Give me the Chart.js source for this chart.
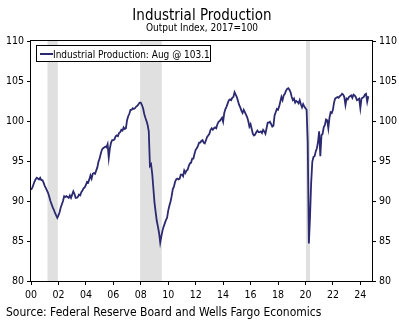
<!DOCTYPE html>
<html>
<head>
<meta charset="utf-8">
<script src="https://cdn.jsdelivr.net/npm/chart.js@4.4.1/dist/chart.umd.min.js"></script>
<style>
  html, body { margin: 0; padding: 0; background: #fff; }
  #wrap { width: 399px; height: 322px; }
</style>
</head>
<body>
<div id="wrap"><canvas id="ip" width="399" height="322"></canvas></div>
<script>
// Industrial production, monthly, Jan 2000 - Aug 2024 (2017=100)
const startYear = 2000;
const ipValues = [
  91.4, 91.6, 92.0, 92.4, 92.7, 92.9, 92.8, 92.7, 92.9, 92.6, 92.6, 92.3,
  91.9, 91.6, 91.3, 91.0, 90.5, 90.0, 89.6, 89.2, 88.9, 88.5, 88.2, 87.9,
  88.2, 88.6, 89.2, 89.6, 90.0, 90.6, 90.5, 90.6, 90.5, 90.4, 90.7, 90.4,
  90.8, 91.2, 90.9, 90.4, 90.4, 90.5, 90.8, 90.7, 91.1, 91.3, 91.6, 91.7,
  92.0, 92.4, 92.3, 92.7, 93.2, 92.8, 93.4, 93.5, 93.4, 93.8, 94.2, 94.9,
  95.3, 95.9, 96.4, 96.6, 96.7, 96.8, 96.7, 97.1, 95.4, 96.6, 97.3, 97.6,
  97.6, 97.7, 98.1, 98.2, 98.1, 98.5, 98.6, 98.9, 98.8, 99.2, 99.0, 99.1,
  100.1, 100.6, 100.9, 101.4, 101.4, 101.6, 101.5, 101.6, 101.8, 101.9, 102.1, 102.3,
  102.3, 102.0, 101.6, 100.9, 100.4, 100.0, 99.5, 98.7, 94.4, 94.6, 93.4, 91.6,
  89.8, 88.6, 87.5, 86.8, 86.0, 84.8, 85.6, 86.3, 86.8, 87.2, 87.6, 87.9,
  88.8, 89.4, 89.9, 90.6, 91.5, 91.8, 92.4, 92.7, 92.8, 92.7, 92.8, 93.3,
  93.3, 93.1, 93.8, 93.5, 93.8, 93.9, 94.4, 94.7, 94.8, 95.3, 95.3, 95.9,
  96.4, 96.6, 96.9, 97.3, 97.3, 97.5, 97.6, 97.3, 97.2, 97.6, 98.0, 98.2,
  98.4, 98.9, 99.1, 98.9, 99.1, 99.2, 99.1, 99.6, 99.9, 100.0, 100.2, 100.4,
  99.9, 101.0, 101.5, 101.8, 102.2, 102.6, 102.7, 102.6, 102.9, 103.0, 103.6, 103.3,
  103.0, 102.5, 102.0, 101.7, 101.3, 101.0, 101.4, 101.1, 100.8, 100.5, 100.0, 99.3,
  99.6, 99.0, 98.4, 98.2, 98.3, 98.6, 98.8, 98.6, 98.6, 98.7, 98.5, 98.9,
  98.7, 98.4, 99.1, 99.8, 99.8, 99.9, 99.6, 99.3, 99.4, 100.7, 101.1, 101.5,
  101.4, 101.8, 102.4, 103.0, 102.6, 103.2, 103.4, 103.8, 104.0, 104.1, 103.9, 103.6,
  103.0, 102.6, 102.8, 102.3, 102.5, 102.4, 102.2, 102.6, 102.1, 101.7, 102.1, 101.8,
  101.6, 101.4, 97.4, 84.7, 88.0, 92.3, 94.9, 95.5, 95.6, 96.2, 96.6, 97.4,
  98.7, 95.6, 98.2, 98.4, 99.2, 99.5, 100.2, 100.1, 99.1, 100.4, 101.1, 101.0,
  101.4, 102.3, 102.8, 102.9, 103.0, 102.9, 103.1, 103.2, 103.4, 103.3, 103.0, 102.0,
  102.8, 102.7, 103.0, 103.1, 103.2, 102.9, 103.3, 103.2, 103.0, 102.6, 102.7, 102.8,
  101.6, 102.8, 102.9, 103.0, 103.3, 103.4, 102.4, 103.1
];

// recession periods as decimal years
const recessionStart = [2001.2, 2007.95, 2020.04];
const recessionEnd = [2001.95, 2009.53, 2020.33];

const yTicks = [80, 85, 90, 95, 100, 105, 110];
const xTickYears = [2000, 2002, 2004, 2006, 2008, 2010, 2012, 2014, 2016, 2018, 2020, 2022, 2024];

const titleText = 'Industrial Production';
const subtitleText = 'Output Index, 2017=100';
const legendText = 'Industrial Production: Aug @ 103.1';
const sourceText = 'Source: Federal Reserve Board and Wells Fargo Economics';

const FONT = '"DejaVu Sans Condensed", "DejaVu Sans", sans-serif';
const LINE_COLOR = '#2b2970';

Chart.defaults.font.family = FONT;
Chart.defaults.color = '#000';

const points = ipValues.map((v, i) => ({ x: startYear + i / 12, y: v }));

const recessionShade = {
  id: 'recessionShade',
  beforeDatasetsDraw(chart) {
    const { ctx, chartArea: a, scales: { x } } = chart;
    ctx.save();
    ctx.fillStyle = '#e0e0e0';
    recessionStart.forEach((s, i) => {
      const x0 = x.getPixelForValue(s);
      const x1 = x.getPixelForValue(recessionEnd[i]);
      ctx.fillRect(x0, a.top, x1 - x0, a.bottom - a.top);
    });
    ctx.restore();
  }
};

// frame, headings, legend box and source line
const decorations = {
  id: 'decorations',
  afterDraw(chart) {
    const { ctx, chartArea: a } = chart;
    ctx.save();
    ctx.strokeStyle = '#000';
    ctx.lineWidth = 1;
    ctx.strokeRect(Math.round(a.left) - 0.5, Math.round(a.top) - 0.5,
      Math.round(a.right - a.left) + 1, Math.round(a.bottom - a.top) + 1);

    ctx.fillStyle = '#000';
    ctx.textAlign = 'center';
    ctx.textBaseline = 'alphabetic';
    ctx.font = '15px ' + FONT;
    ctx.fillText(titleText, 202, 20);
    ctx.font = '10px ' + FONT;
    ctx.fillText(subtitleText, 202, 31);

    // legend
    ctx.fillStyle = '#fff';
    ctx.fillRect(37, 46, 173, 15);
    ctx.strokeRect(36.5, 45.5, 174, 16);
    ctx.strokeStyle = LINE_COLOR;
    ctx.lineWidth = 2;
    ctx.beginPath();
    ctx.moveTo(40, 54);
    ctx.lineTo(53, 54);
    ctx.stroke();
    ctx.fillStyle = '#000';
    ctx.textAlign = 'left';
    ctx.font = '10px ' + FONT;
    ctx.fillText(legendText, 53, 58);

    ctx.font = '12px ' + FONT;
    ctx.fillText(sourceText, 6, 316);
    ctx.restore();
  }
};

const yAxis = (position, width) => ({
  type: 'linear',
  position,
  min: 80,
  max: 110,
  afterBuildTicks: s => { s.ticks = yTicks.map(v => ({ value: v })); },
  afterFit: s => { s.width = width; },
  border: { display: false },
  grid: { drawOnChartArea: false, drawTicks: true, tickLength: 4, color: '#000' },
  ticks: { padding: 3, font: { size: 10.5 }, color: '#000' }
});

new Chart(document.getElementById('ip'), {
  type: 'line',
  data: {
    datasets: [{
      label: legendText,
      data: points,
      borderColor: LINE_COLOR,
      borderWidth: 1.8,
      pointRadius: 0,
      tension: 0
    }]
  },
  options: {
    responsive: false,
    animation: false,
    layout: { padding: { top: 41, left: 0, right: 0, bottom: 0 } },
    plugins: { legend: { display: false }, tooltip: { enabled: false } },
    scales: {
      x: {
        type: 'linear',
        min: 2000,
        max: 2024.85,
        afterBuildTicks: s => { s.ticks = xTickYears.map(v => ({ value: v })); },
        afterFit: s => { s.height = 41; },
        border: { display: false },
        grid: { drawOnChartArea: false, drawTicks: true, tickLength: 4, color: '#000' },
        ticks: {
          padding: 4,
          maxRotation: 0,
          font: { size: 10.5 },
          color: '#000',
          callback: v => String(v % 100).padStart(2, '0')
        }
      },
      y: yAxis('left', 31),
      y2: yAxis('right', 27)
    }
  },
  plugins: [recessionShade, decorations]
});
</script>
</body>
</html>
